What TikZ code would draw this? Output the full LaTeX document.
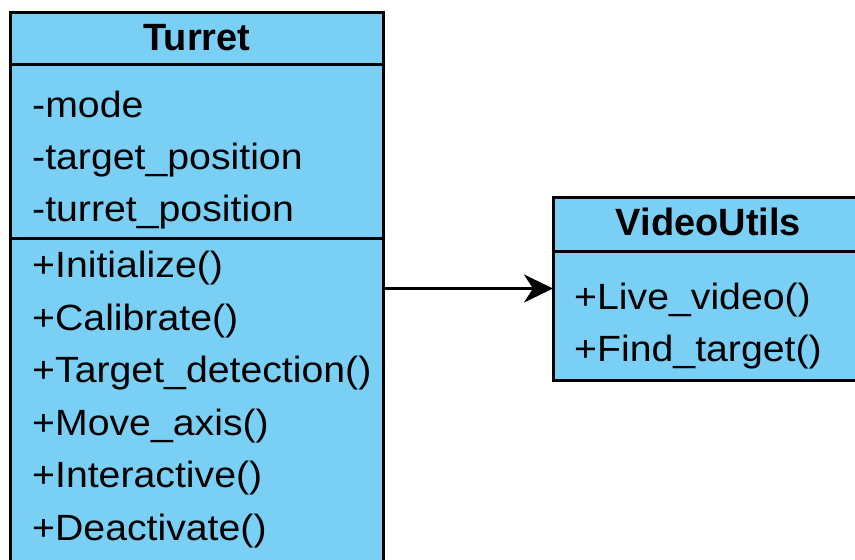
\documentclass[tikz,border=0pt]{standalone}
\usepackage{fontspec}
\setmainfont{Liberation Sans}
\newfontfamily\memberfont[FakeStretch=1.075]{Liberation Sans}
\usetikzlibrary{arrows.meta}
\definecolor{classfill}{RGB}{122,207,245}
\begin{document}
\begin{tikzpicture}[x=1pt,y=-1pt,
  classbox/.style={draw=black, fill=classfill, line width=3pt, rectangle,
    inner sep=0pt, outer sep=0pt, anchor=north west},
  divider/.style={line width=3pt, draw=black},
  titletext/.style={anchor=base, inner sep=0pt,
    font=\fontsize{38}{45}\selectfont\bfseries},
  membertext/.style={anchor=base west, inner sep=0pt,
    font=\memberfont\fontsize{36.5}{44}\selectfont},
  uses/.style={line width=3pt, -{Stealth[length=29pt,width=28pt,inset=9pt]}}]
\useasboundingbox (0,0) rectangle (855,560);
\clip (0,0) rectangle (855,560);

% class Turret
\node[classbox, minimum width=373pt, minimum height=600pt] (turret) at (10,12) {};
\draw[divider] (turret.north west |- 0,64) -- (turret.north east |- 0,64);
\draw[divider] (turret.north west |- 0,238) -- (turret.north east |- 0,238);
\node[titletext] (turrettitle) at (197,50) {Turret};
\node[membertext] (tmode)   at (32,117) {-mode};
\node[membertext] (ttarget) at (32,169) {-target\_position};
\node[membertext] (tturret) at (32,221) {-turret\_position};
\node[membertext] (minit)   at (32,277.5) {+Initialize()};
\node[membertext] (mcalib)  at (32,330.1) {+Calibrate()};
\node[membertext] (mdetect) at (32,382.7) {+Target\_detection()};
\node[membertext] (mmove)   at (32,435.3) {+Move\_axis()};
\node[membertext] (minter)  at (32,487.9) {+Interactive()};
\node[membertext] (mdeact)  at (32,540.5) {+Deactivate()};

% class VideoUtils
\node[classbox, minimum width=311pt, minimum height=183pt] (video) at (553,197) {};
\draw[divider] (video.north west |- 0,251) -- (video.north east |- 0,251);
\node[titletext] (videotitle) at (708.5,235) {VideoUtils};
\node[membertext] (vlive) at (574,309) {+Live\_video()};
\node[membertext] (vfind) at (574,361) {+Find\_target()};

% dependency
\draw[uses] (turret.east |- video.west) -- (video.west);
\end{tikzpicture}
\end{document}
